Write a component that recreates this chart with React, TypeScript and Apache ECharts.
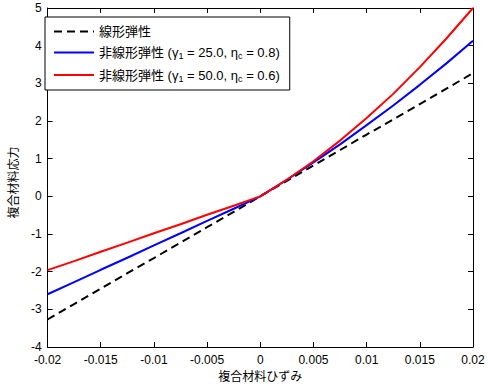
import React, { useEffect, useRef } from "react";
import * as echarts from "echarts";

const strain = [-0.02, -0.0175, -0.015, -0.0125, -0.01, -0.0075, -0.005, -0.0025, 0, 0.0025, 0.005, 0.0075, 0.01, 0.0125, 0.015, 0.0175, 0.02];
const linearStress = [-3.27, -2.86, -2.45, -2.04, -1.64, -1.23, -0.82, -0.41, 0, 0.41, 0.82, 1.23, 1.64, 2.04, 2.45, 2.86, 3.27];
const nonlin1Stress = [-2.6, -2.28, -1.95, -1.63, -1.3, -0.98, -0.65, -0.33, 0, 0.44, 0.9, 1.38, 1.89, 2.41, 2.96, 3.53, 4.13];
const nonlin2Stress = [-1.96, -1.72, -1.47, -1.23, -0.98, -0.74, -0.49, -0.25, 0, 0.44, 0.93, 1.48, 2.08, 2.72, 3.43, 4.19, 5.0];
const seriesNames = ["線形弾性", "非線形弾性 (γ1 = 25.0, ηc = 0.8)", "非線形弾性 (γ1 = 50.0, ηc = 0.6)"];
const legendLabels = [
  "線形弾性",
  "非線形弾性 (γ{sub|1} = 25.0, η{sub|c} = 0.8)",
  "非線形弾性 (γ{sub|1} = 50.0, η{sub|c} = 0.6)",
];
const xLabel = "複合材料ひずみ";
const yLabel = "複合材料応力";

const FONT = "'Liberation Sans', Arial, 'Noto Sans CJK JP', sans-serif";

export default function App() {
  const ref = useRef<HTMLDivElement>(null);
  useEffect(() => {
    document.body.style.margin = "0";
    const chart = echarts.init(ref.current!, undefined, { renderer: "svg" });
    const pairs = (ys: number[]) => strain.map((x, i) => [x, ys[i]]);
    const tickStyle = { show: true, inside: true, length: 5, lineStyle: { color: "#000", width: 1 } };
    const axisLine = { show: true, onZero: false, lineStyle: { color: "#000", width: 1 } };
    chart.setOption({
      animation: false,
      backgroundColor: "#fff",
      textStyle: { fontFamily: FONT },
      grid: { left: 39, top: 8, right: 15, bottom: 35, containLabel: false },
      legend: {
        orient: "vertical",
        left: 45,
        top: 17,
        itemWidth: 40,
        itemHeight: 14,
        itemGap: 8,
        padding: [8, 10, 7, 8],
        borderColor: "#000",
        borderWidth: 1,
        backgroundColor: "#fff",
        data: seriesNames,
        itemStyle: { opacity: 0 },
        formatter: (name: string) => legendLabels[seriesNames.indexOf(name)],
        textStyle: {
          fontFamily: FONT,
          fontSize: 13,
          color: "#000",
          rich: {
            sub: { fontSize: 9, fontFamily: FONT, color: "#000", padding: [7, 0, 0, 0] },
          },
        },
      },
      xAxis: [
        {
          type: "value",
          min: -0.02,
          max: 0.02,
          interval: 0.005,
          position: "bottom",
          axisLine,
          axisTick: tickStyle,
          splitLine: { show: false },
          axisLabel: {
            color: "#000",
            fontSize: 12,
            fontFamily: FONT,
            margin: 7,
            formatter: (v: number) => String(parseFloat(v.toFixed(4))),
          },
          name: xLabel,
          nameLocation: "middle",
          nameGap: 24,
          nameTextStyle: { color: "#000", fontSize: 12, fontFamily: FONT },
        },
        {
          type: "value",
          min: -0.02,
          max: 0.02,
          interval: 0.005,
          position: "top",
          axisLine,
          axisTick: tickStyle,
          splitLine: { show: false },
          axisLabel: { show: false },
        },
      ],
      yAxis: [
        {
          type: "value",
          min: -4,
          max: 5,
          interval: 1,
          position: "left",
          axisLine,
          axisTick: tickStyle,
          splitLine: { show: false },
          axisLabel: { color: "#000", fontSize: 12, fontFamily: FONT, margin: 6 },
          name: yLabel,
          nameLocation: "middle",
          nameGap: 24,
          nameTextStyle: { color: "#000", fontSize: 12, fontFamily: FONT, padding: [0, 10, 0, 0] },
        },
        {
          type: "value",
          min: -4,
          max: 5,
          interval: 1,
          position: "right",
          axisLine,
          axisTick: tickStyle,
          splitLine: { show: false },
          axisLabel: { show: false },
        },
      ],
      series: [
        {
          name: seriesNames[0],
          type: "line",
          data: pairs(linearStress),
          showSymbol: false,
          symbol: "none",
          lineStyle: { color: "#000", width: 2, type: [8, 5] },
          itemStyle: { color: "#000" },
        },
        {
          name: seriesNames[1],
          type: "line",
          data: pairs(nonlin1Stress),
          showSymbol: false,
          symbol: "none",
          lineStyle: { color: "#0000ff", width: 2 },
          itemStyle: { color: "#0000ff" },
        },
        {
          name: seriesNames[2],
          type: "line",
          data: pairs(nonlin2Stress),
          showSymbol: false,
          symbol: "none",
          lineStyle: { color: "#ff0000", width: 2 },
          itemStyle: { color: "#ff0000" },
        },
      ],
    });
    return () => chart.dispose();
  }, []);
  return <div ref={ref} style={{ width: 488, height: 388 }} />;
}
